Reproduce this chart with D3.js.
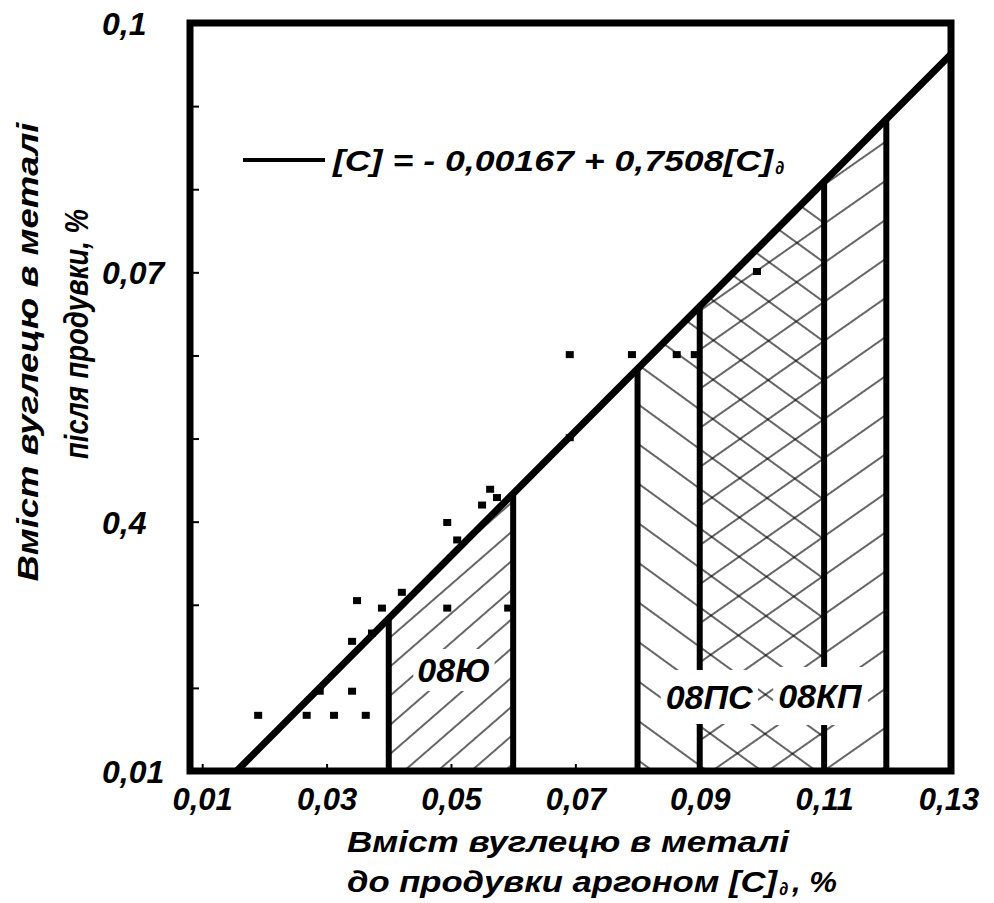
<!DOCTYPE html>
<html>
<head>
<meta charset="utf-8">
<script src="https://d3js.org/d3.v7.min.js"></script>
<style>
  body { margin: 0; background: #fff; }
  svg text { font-family: "Liberation Sans", Arial, sans-serif; font-weight: bold; font-style: italic; fill: #000; }
</style>
</head>
<body>
<script>
// tick values and labels (the 0,4 label is as printed in the source)
var xTicks = [0.01, 0.03, 0.05, 0.07, 0.09, 0.11, 0.13];
var xTickLabels = ["0,01", "0,03", "0,05", "0,07", "0,09", "0,11", "0,13"];
var yTicks = [0.01, 0.04, 0.07, 0.1];
var yTickLabels = ["0,01", "0,4", "0,07", "0,1"];
var yMinorTicks = [0.02, 0.03, 0.04, 0.05, 0.06, 0.07, 0.08, 0.09];

// measured points: carbon before and after argon blowing, %
var carbonBefore = [0.019, 0.0268, 0.0312, 0.0363, 0.0289, 0.0341, 0.0341, 0.0373, 0.0349, 0.0389,
                    0.0421, 0.0494, 0.0592, 0.0494, 0.051, 0.055, 0.0563, 0.0574,
                    0.0691, 0.0691, 0.0791, 0.0863, 0.0892, 0.0992];
var carbonAfter  = [0.0167, 0.0167, 0.0167, 0.0167, 0.0196, 0.0196, 0.0256, 0.0266, 0.0305, 0.0296,
                    0.0315, 0.0296, 0.0296, 0.0399, 0.0378, 0.042, 0.0439, 0.0429,
                    0.0601, 0.0501, 0.0601, 0.0601, 0.0601, 0.0701];

// regression [C] = -0.00167 + 0.7508 [C]d
var intercept = -0.00167, slope = 0.7508;

// steel grade ranges of initial carbon
var grades = ["08Ю", "08ПС", "08КП"];
var gradeFrom = [0.04, 0.08, 0.09];
var gradeTo = [0.06, 0.11, 0.12];

var svg = d3.select("body").append("svg")
    .attr("width", 994)
    .attr("height", 903);

var x = d3.scaleLinear().domain([0.00804, 0.1304]).range([190, 951]);
var y = d3.scaleLinear().domain([0.01, 0.1]).range([771, 23]);
var fit = function(d) { return intercept + slope * d; };

// hatch patterns
var defs = svg.append("defs");
function hatch(id, angle, gap) {
  var p = defs.append("pattern")
      .attr("id", id)
      .attr("patternUnits", "userSpaceOnUse")
      .attr("width", gap)
      .attr("height", gap)
      .attr("patternTransform", "rotate(" + angle + ")");
  p.append("line")
      .attr("x1", gap / 2).attr("y1", 0)
      .attr("x2", gap / 2).attr("y2", gap)
      .attr("stroke", "#000")
      .attr("stroke-width", 1.2);
}
hatch("h0", 49, 22);   // 08Ю  "/"
hatch("h1", -54, 32);  // 08ПС "\"
hatch("h2", 55, 32);   // 08КП "/"

// hatched areas under the regression line
var area = d3.line().x(function(d) { return x(d[0]); }).y(function(d) { return y(d[1]); });
grades.forEach(function(g, i) {
  var a = gradeFrom[i], b = gradeTo[i];
  svg.append("path")
      .attr("d", area([[a, 0.01], [a, fit(a)], [b, fit(b)], [b, 0.01]]) + "Z")
      .attr("fill", "url(#h" + i + ")")
      .attr("stroke", "none");
});

// boundary verticals
var bounds = gradeFrom.concat(gradeTo);
svg.selectAll(".bound")
  .data(bounds)
  .enter()
  .append("line")
    .attr("x1", function(d) { return x(d); })
    .attr("x2", function(d) { return x(d); })
    .attr("y1", y(0.01))
    .attr("y2", function(d) { return y(fit(d)); })
    .attr("stroke", "#000")
    .attr("stroke-width", 6);

// grade labels with white backing
var labelPos = [[x(0.05) + 3, 682], [x(0.0915), 709], [x(0.1093), 708]];
var labelPad = [[4, 2], [5, 8], [5, 10]];
grades.forEach(function(g, i) {
  var t = svg.append("text")
      .attr("x", labelPos[i][0])
      .attr("y", labelPos[i][1])
      .attr("text-anchor", "middle")
      .attr("font-size", 34)
      .text(g);
  var bb = t.node().getBBox();
  svg.insert("rect", function() { return t.node(); })
      .attr("x", bb.x - labelPad[i][0]).attr("y", bb.y - labelPad[i][1])
      .attr("width", bb.width + 2 * labelPad[i][0]).attr("height", bb.height + 2 * labelPad[i][1])
      .attr("fill", "#fff");
});

// data points
svg.selectAll(".pt")
  .data(carbonBefore)
  .enter()
  .append("rect")
    .attr("x", function(d) { return x(d) - 4; })
    .attr("y", function(d, i) { return y(carbonAfter[i]) - 3.5; })
    .attr("width", 8)
    .attr("height", 7)
    .attr("fill", "#000");

// regression line
var x0 = (0.01 - intercept) / slope, x1 = x.domain()[1];
svg.append("line")
    .attr("x1", x(x0)).attr("y1", y(fit(x0)))
    .attr("x2", x(x1)).attr("y2", y(fit(x1)))
    .attr("stroke", "#000")
    .attr("stroke-width", 7);

// frame
svg.append("rect")
    .attr("x", x.range()[0]).attr("y", y.range()[1])
    .attr("width", x.range()[1] - x.range()[0])
    .attr("height", y.range()[0] - y.range()[1])
    .attr("fill", "none")
    .attr("stroke", "#000")
    .attr("stroke-width", 7);

// X axis
var gx = svg.append("g")
    .attr("transform", "translate(0," + y(0.01) + ")")
    .call(d3.axisBottom(x)
      .tickValues(xTicks)
      .tickFormat(function(d, i) { return xTickLabels[i]; })
      .tickSizeInner(-7).tickSizeOuter(0).tickPadding(17));
gx.select(".domain").remove();
gx.attr("font-size", 31);
gx.selectAll("line").attr("stroke-width", 2);

// Y axis: minor ticks, then labels
var gyMinor = svg.append("g")
    .attr("transform", "translate(" + x.range()[0] + ",0)")
    .call(d3.axisLeft(y).tickValues(yMinorTicks).tickFormat("").tickSizeInner(-9).tickSizeOuter(0));
gyMinor.select(".domain").remove();
gyMinor.selectAll("line").attr("stroke-width", 2);

var gy = svg.append("g")
    .attr("transform", "translate(" + x.range()[0] + ",0)")
    .call(d3.axisLeft(y).tickValues(yTicks)
      .tickFormat(function(d, i) { return yTickLabels[i]; })
      .tickSize(0));
gy.select(".domain").remove();
gy.attr("font-size", 32);
gy.selectAll("text").attr("text-anchor", "start").attr("x", -88).attr("dy", "0.36em");

// legend
svg.append("line")
    .attr("x1", 243).attr("x2", 325)
    .attr("y1", 160).attr("y2", 160)
    .attr("stroke", "#000").attr("stroke-width", 4);
svg.append("text")
    .attr("x", 333).attr("y", 171)
    .attr("font-size", 30)
    .attr("textLength", 440)
    .attr("lengthAdjust", "spacingAndGlyphs")
    .text("[C] = - 0,00167 + 0,7508[C]");
svg.append("text")
    .attr("x", 775).attr("y", 174)
    .attr("font-size", 18)
    .text("∂");

// axis titles
svg.append("text")
    .attr("x", 347).attr("y", 852)
    .attr("font-size", 30)
    .attr("textLength", 442)
    .attr("lengthAdjust", "spacingAndGlyphs")
    .text("Вміст вуглецю в металі");
svg.append("text")
    .attr("x", 347).attr("y", 892)
    .attr("font-size", 30)
    .attr("textLength", 430)
    .attr("lengthAdjust", "spacingAndGlyphs")
    .text("до продувки аргоном [C]");
svg.append("text")
    .attr("x", 779).attr("y", 895)
    .attr("font-size", 18)
    .text("∂");
svg.append("text")
    .attr("x", 792).attr("y", 892)
    .attr("font-size", 30)
    .attr("textLength", 45)
    .attr("lengthAdjust", "spacingAndGlyphs")
    .text(", %");

svg.append("text")
    .attr("transform", "translate(38,352) rotate(-90)")
    .attr("text-anchor", "middle")
    .attr("font-size", 30)
    .attr("textLength", 459)
    .attr("lengthAdjust", "spacingAndGlyphs")
    .text("Вміст вуглецю в металі");
svg.append("text")
    .attr("transform", "translate(88,334) rotate(-90)")
    .attr("text-anchor", "middle")
    .attr("font-size", 33)
    .attr("textLength", 250)
    .attr("lengthAdjust", "spacingAndGlyphs")
    .text("після продувки, %");
</script>
</body>
</html>
